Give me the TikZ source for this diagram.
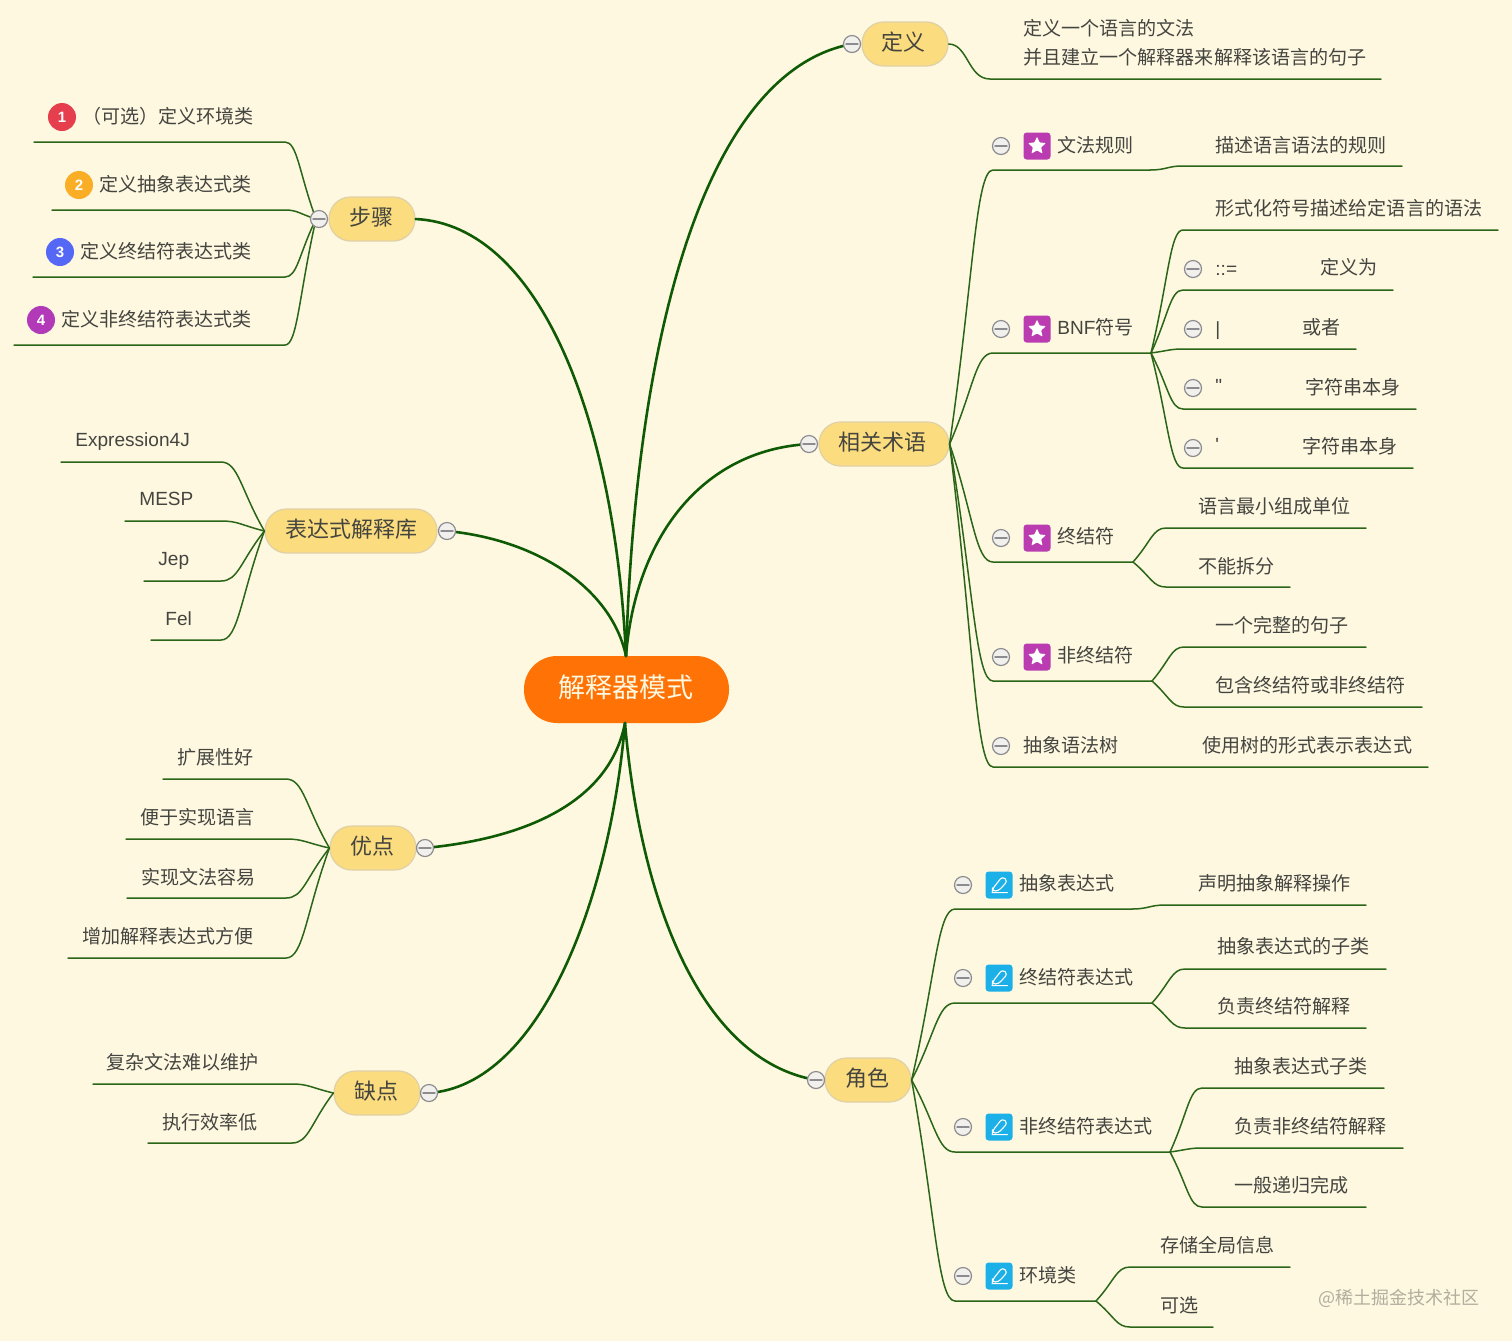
\documentclass[tikz,border=0pt]{standalone}
\usepackage{fontspec}
\setmainfont{Noto Sans CJK SC}
\newfontfamily\latinfont{Liberation Sans}
\usepackage{tikz}
\usetikzlibrary{calc}
\definecolor{bgcream}{HTML}{FEF8E1}
\definecolor{branchgreen}{HTML}{0F5A05}
\definecolor{twiggreen}{HTML}{2A6518}
\definecolor{inkgray}{HTML}{454540}
\definecolor{topicfill}{HTML}{FBDC7E}
\definecolor{topicline}{HTML}{E0D0A8}
\definecolor{rootorange}{HTML}{FF7205}
\definecolor{foldgray}{HTML}{8C8C90}
\definecolor{foldfill}{HTML}{F1F0EC}
\definecolor{starpurple}{HTML}{BA3CB0}
\definecolor{penblue}{HTML}{1CB0E8}
\definecolor{badgered}{HTML}{E53E4D}
\definecolor{badgeorange}{HTML}{F9AE26}
\definecolor{badgeblue}{HTML}{5468F5}
\definecolor{badgepurple}{HTML}{B23AB8}
\tikzset{
	leaf/.style={anchor=west,inner sep=0pt,text height=8pt,text depth=1pt,font=\fontsize{9.53}{11}\selectfont,text=inkgray},
	topic/.style={draw=topicline,line width=.6pt,fill=topicfill,rounded corners=10.8pt,minimum height=22pt,inner sep=0pt,text height=9.6pt,text depth=3.3pt,font=\fontsize{11}{13}\selectfont,text=inkgray},
	foldmark/.style={circle,draw=foldgray,line width=.6pt,fill=foldfill,minimum size=8.5pt,inner sep=0pt,
		path picture={\draw[foldgray,line width=.7pt] ([xshift=-3pt]path picture bounding box.center) -- ([xshift=3pt]path picture bounding box.center);}},
	branch/.style={draw=branchgreen,line width=1.3pt},
	twig/.style={draw=twiggreen,line width=.75pt},
	badge/.style={circle,minimum size=14pt,inner sep=0pt,text=white,font=\latinfont\bfseries\fontsize{7.5}{9}\selectfont},
	staricon/.style={fill=starpurple,rounded corners=1.6pt,minimum size=13.5pt,inner sep=0pt,
		path picture={\fill[white,rounded corners=.4pt,shift={(path picture bounding box.center)}]
			(90:4.7pt) -- (126:2.2pt) -- (162:4.7pt) -- (198:2.2pt) -- (234:4.7pt) -- (270:2.2pt) -- (306:4.7pt) -- (342:2.2pt) -- (18:4.7pt) -- (54:2.2pt) -- cycle;}},
	penicon/.style={fill=penblue,rounded corners=1.6pt,minimum size=13.5pt,inner sep=0pt,
		path picture={\draw[white,line width=.55pt,line join=round,shift={(path picture bounding box.center)}]
			(-3.3pt,-2pt) -- (1.7pt,4.3pt) -- (4.3pt,2pt) -- (-.3pt,-3pt) -- (-3.3pt,-3pt) -- cycle
			(-3.5pt,-3.8pt) -- (4.2pt,-3.8pt);}}
}

\begin{document}
\begin{tikzpicture}[line cap=round,line join=round,x=.5pt,y=-.5pt]
	\useasboundingbox (0,0) rectangle (1512,1341);
	\fill[bgcream] (0,0) rectangle (1512,1341);

	\node[fill=rootorange,rounded corners=16.5pt,minimum width=102.5pt,minimum height=33.5pt,inner sep=0pt,text height=11.8pt,text depth=3.6pt,text=bgcream,font=\fontsize{13.5}{16}\selectfont] (root) at (626.5,689.5) {解释器模式\kern.5pt};
	\foreach \name/\x/\y/\w/\k/\txt in {define/905/44/43/1.5/定义,terms/884/444/65/1.5/相关术语,roles/868/1080/43/.5/角色,steps/372/219/43/.5/步骤,libs/351/531/86/-.5/表达式解释库,pros/373/848/43/.5/优点,cons/377/1093/43/.5/缺点}
	\node[topic,minimum width=\w pt] (\name) at (\x,\y) {\txt\kern\k pt};

	\foreach \name/\x/\y in {defineFold/852/44,termsFold/809/444,rolesFold/816/1080,stepsFold/319/219,libsFold/447/531,prosFold/425/848,consFold/429/1093}
	\coordinate (\name) at (\x,\y);
	\coordinate (stepsHub) at (316,219);
	\coordinate (rootTop) at (626,656);
	\coordinate (rootBot) at (625,723);

	\draw[branch] (rootTop) .. controls (636,320) and (710,70) .. (defineFold);
	\draw[branch] (rootTop) .. controls (635,540) and (700,450) .. (termsFold);
	\draw[branch] (rootTop) .. controls (615,420) and (540,225) .. (steps.east);
	\draw[branch] (rootTop) .. controls (612,590) and (540,540) .. (libsFold);
	\draw[branch] (rootBot) .. controls (610,800) and (530,838) .. (prosFold);
	\draw[branch] (rootBot) .. controls (610,900) and (540,1085) .. (consFold);
	\draw[branch] (rootBot) .. controls (640,900) and (700,1060) .. (rolesFold);

	\coordinate (defineLine-a) at (990,79);
	\coordinate (defineLine-b) at (1381,79);
	\draw[twig] (define.east) .. controls (968,44) and (968,79) .. (defineLine-a) -- (defineLine-b);

	\foreach \hub/\name/\bx/\by/\ex in {
		terms.east/rule/993/170/1150,
		terms.east/bnf/993/353/1151,terms.east/term/993/562/1133,terms.east/nonterm/993/681/1152,terms.east/ast/993/767/1428,
		bnf-b/bnfDesc/1183/230/1498,bnf-b/bnfDef/1183/290/1393,bnf-b/bnfOr/1183/349/1356,bnf-b/bnfDq/1183/409/1416,bnf-b/bnfSq/1183/468/1413,
		term-b/termA/1166/528/1366,term-b/termB/1166/587/1290,
		nonterm-b/nontermA/1184/647/1366,nonterm-b/nontermB/1184/707/1422,
		roles.east/absRole/955/909/1132,
		roles.east/termRole/955/1003/1152,roles.east/nontermRole/955/1152/1170,roles.east/envRole/955/1301/1096,
		termRole-b/termRoleA/1185/969/1386,termRole-b/termRoleB/1185/1028/1366,
		nontermRole-b/nontermRoleA/1202/1088/1384,nontermRole-b/nontermRoleB/1202/1148/1403,nontermRole-b/nontermRoleC/1202/1207/1366,
		envRole-b/envRoleA/1130/1267/1290,envRole-b/envRoleB/1130/1327/1213,
		stepsHub/stepA/285/142/34,stepsHub/stepB/285/210/52,stepsHub/stepC/285/277/33,stepsHub/stepD/285/345/14,
		libs.west/libA/221/462/61,libs.west/libB/221/521/125,libs.west/libC/221/581/144,libs.west/libD/221/640/151,
		pros.west/proA/286/779/163,pros.west/proB/286/839/126,pros.west/proC/286/898/127,pros.west/proD/286/958/68,
		cons.west/conA/292/1084/93,cons.west/conB/292/1143/148}{
		\coordinate (\name-a) at (\bx,\by);
		\coordinate (\name-b) at (\ex,\by);
		\draw[twig] let \p1=(\hub),\p2=(\name-a) in (\p1) .. controls ({\x1+.55*(\x2-\x1)},{\y1+.6*(\y2-\y1)}) and ({\x2-.4*(\x2-\x1)},\y2) .. (\p2) -- (\name-b);
	}

	\coordinate (ruleDesc-a) at (1182,166);
	\coordinate (ruleDesc-b) at (1402,166);
	\draw[twig] (rule-b) .. controls (1166,170) and (1168,166) .. (ruleDesc-a) -- (ruleDesc-b);
	\coordinate (absDesc-a) at (1165,905);
	\coordinate (absDesc-b) at (1366,905);
	\draw[twig] (absRole-b) .. controls (1148,909) and (1150,905) .. (absDesc-a) -- (absDesc-b);

	\foreach \name/\x/\y in {defineFold/852/44,termsFold/809/444,rolesFold/816/1080,stepsFold/319/219,libsFold/447/531,prosFold/425/848,consFold/429/1093,
		ruleFold/1001/146,bnfFold/1001/329,termFold/1001/538,nontermFold/1001/657,astFold/1001/746,
		defFold/1193/269,orFold/1193/329,dqFold/1193/388,sqFold/1193/448,
		absFold/963/885,termRoleFold/963/978,nontermRoleFold/963/1127,envFold/963/1276}
	\node[foldmark] (\name-mark) at (\x,\y) {};

	\foreach \name/\y in {ruleIcon/146,bnfIcon/329,termIcon/538,nontermIcon/657}
	\node[staricon] (\name) at (1037,\y) {};
	\foreach \name/\y in {absIcon/885,termRoleIcon/978,nontermRoleIcon/1127,envIcon/1276}
	\node[penicon] (\name) at (999,\y) {};

	\node[badge,fill=badgered] (badgeA) at (62,117) {1};
	\node[badge,fill=badgeorange] (badgeB) at (79,185) {2};
	\node[badge,fill=badgeblue] (badgeC) at (60,252) {3};
	\node[badge,fill=badgepurple] (badgeD) at (41,320) {4};

	\node[leaf,align=left,text height=,text depth=,font=\fontsize{9.53}{14.25}\selectfont] (defineText) at (1023,42.5) {定义一个语言的文法\\并且建立一个解释器来解释该语言的句子};

	\foreach \name/\x/\y/\txt in {
		ruleText/1057/145/文法规则,ruleDescText/1215/145/描述语言语法的规则,
		bnfText/1057/327/{{\latinfont BNF}符号},bnfDescText/1215/208/形式化符号描述给定语言的语法,
		defSym/1215/268/{\latinfont ::=},defText/1320/267/定义为,
		orSym/1215/328/{\latinfont |},orText/1302/327/或者,
		dqSym/1215/385/{\latinfont "},dqText/1305/387/字符串本身,
		sqSym/1215/444/{\latinfont '},sqText/1302/446/字符串本身,
		termText/1057/536/终结符,termAText/1198/506/语言最小组成单位,termBText/1198/566/不能拆分,
		nontermText/1057/655/非终结符,nontermAText/1215/625/一个完整的句子,nontermBText/1215/685/包含终结符或非终结符,
		astText/1023/745/抽象语法树,astDescText/1202/745/使用树的形式表示表达式,
		absText/1019/883/抽象表达式,absDescText/1198/883/声明抽象解释操作,
		termRoleText/1019/977/终结符表达式,termRoleAText/1217/946/抽象表达式的子类,termRoleBText/1217/1006/负责终结符解释,
		nontermRoleText/1019/1126/非终结符表达式,nontermRoleAText/1234/1066/抽象表达式子类,nontermRoleBText/1234/1126/负责非终结符解释,nontermRoleCText/1234/1185/一般递归完成,
		envText/1019/1275/环境类,envAText/1160/1245/存储全局信息,envBText/1160/1305/可选,
		stepAText/82/116/（可选）定义环境类,stepBText/99/184/定义抽象表达式类,stepCText/80/251/定义终结符表达式类,stepDText/61/319/定义非终结符表达式类,
		libAText/75/439/{\latinfont Expression4J},libBText/139/498/{\latinfont MESP},libCText/158/558/{\latinfont Jep},libDText/165/618/{\latinfont Fel},
		proAText/177/757/扩展性好,proBText/140/817/便于实现语言,proCText/141/877/实现文法容易,proDText/82/936/增加解释表达式方便,
		conAText/106/1062/复杂文法难以维护,conBText/162/1122/执行效率低}
	\node[leaf] (\name) at (\x,\y) {\txt};

	\node[leaf,text=black!30!bgcream,font=\fontsize{9}{11}\selectfont] (mark) at (1318,1297) {@稀土掘金技术社区};
\end{tikzpicture}
\end{document}
